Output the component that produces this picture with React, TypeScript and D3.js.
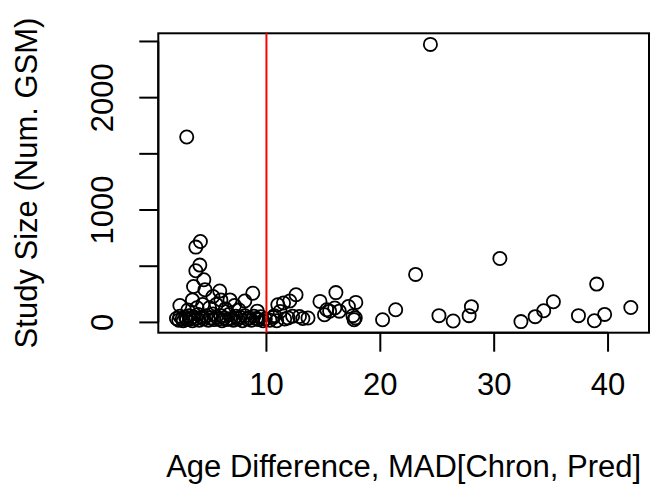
import React from "react";
import * as d3 from "d3";

// Age difference, MAD[Chron, Pred] (x) and study size, number of GSM (y)
const ageDiff: number[] = [
  // dense left cluster, low
  2.1, 2.3, 2.4, 2.6, 2.7, 2.9, 3.0, 3.2, 3.3, 3.5, 3.6, 3.8, 4.0, 4.1, 4.3, 4.5, 4.7, 4.9, 5.1, 5.3, 5.4, 5.6,
  5.8, 6.0, 6.1, 6.3, 6.5, 6.7, 6.9, 7.1, 7.3, 7.5, 7.7, 7.9, 8.1, 8.3, 8.5, 8.7, 8.9, 9.1, 9.3, 9.5, 9.7, 9.9,
  // left cluster, upper
  2.4, 3.1, 3.5, 3.6, 4.6, 4.5, 5.0, 5.3, 5.6, 5.9, 6.0, 6.4, 6.8, 7.2, 7.6, 8.1, 8.8, 9.2, 3.9, 4.4,
  // left cluster, high
  3.0, 4.2, 3.8, 4.15, 3.8,
  // middle
  10.3, 10.6, 10.7, 10.9, 11.0, 11.2, 11.5, 11.6, 11.9, 12.05, 12.3, 12.6, 12.9, 13.2, 13.65, 14.7, 15.1, 15.3,
  15.55, 16.0, 16.1, 16.4, 17.2, 17.85, 17.6, 17.7, 17.8,
  // right
  20.2, 21.35, 23.1, 24.4, 25.15, 26.4, 27.8, 28.0, 30.5, 32.35, 33.6, 34.35, 35.2, 37.4, 38.8, 39.0, 39.7, 42.0,
];

const studySize: number[] = [
  35, 20, 55, 30, 15, 45, 25, 60, 30, 15, 50, 35, 70, 20, 45, 30, 60, 20, 40, 75, 25, 50,
  30, 60, 15, 40, 25, 70, 35, 20, 55, 30, 45, 15, 60, 30, 40, 20, 55, 35, 25, 50, 15, 30,
  150, 110, 200, 320, 290, 380, 130, 230, 160, 280, 200, 120, 200, 150, 110, 190, 260, 100, 130, 160,
  1650, 720, 670, 510, 460,
  20, 45, 60, 15, 157, 98, 172, 30, 40, 190, 55, 246, 53, 35, 39, 187, 68, 113,
  100, 128, 265, 100, 142, 178, 60, 24, 40,
  24, 113, 427, 2474, 60, 12, 60, 140, 569, 7, 51, 104, 184, 60, 15, 341, 71, 133,
];

const xTicks: number[] = [10, 20, 30, 40];
const yTicks: number[] = [0, 500, 1000, 1500, 2000, 2500];
const yTickLabels: number[] = [0, 1000, 2000];
const cutoff = 10;

const xTitle = "Age Difference, MAD[Chron, Pred]";
const yTitle = "Study Size (Num. GSM)";

const W = 650;
const H = 484;
const L = 158.3;
const R = 649;
const T = 33.3;
const B = 332.7;
const FONT = "'Liberation Sans', Arial, Helvetica, sans-serif";
const FS = 31;

function padExtent(v: number[]): [number, number] {
  const [a, b] = d3.extent(v) as [number, number];
  const p = (b - a) * 0.04;
  return [a - p, b + p];
}

export default function App() {
  const x = d3.scaleLinear().domain(padExtent(ageDiff)).range([L, R]);
  const y = d3.scaleLinear().domain(padExtent(studySize)).range([B, T]);
  const pts = ageDiff.map((d, i) => [d, studySize[i]] as [number, number]);
  const tick = 19;

  return (
    <svg
      width={W}
      height={H}
      style={{ position: "absolute", left: 0, top: 0, background: "#fff" }}
      fontFamily={FONT}
    >
      <rect x={0} y={0} width={W} height={H} fill="#fff" />
      {pts.map(([a, b], i) => (
        <circle key={i} cx={x(a)} cy={y(b)} r={6.6} fill="none" stroke="#000" strokeWidth={1.8} />
      ))}
      {/* x axis */}
      <line x1={x(xTicks[0])} x2={x(xTicks[xTicks.length - 1])} y1={B} y2={B} stroke="#000" strokeWidth={2} />
      {xTicks.map((t) => (
        <g key={t}>
          <line x1={x(t)} x2={x(t)} y1={B} y2={B + tick} stroke="#000" strokeWidth={2} />
          <text x={x(t)} y={395} textAnchor="middle" fontSize={FS}>
            {t}
          </text>
        </g>
      ))}
      {/* y axis */}
      <line x1={L} x2={L} y1={y(yTicks[0])} y2={y(yTicks[yTicks.length - 1])} stroke="#000" strokeWidth={2} />
      {yTicks.map((t) => (
        <line key={t} x1={L - tick} x2={L} y1={y(t)} y2={y(t)} stroke="#000" strokeWidth={2} />
      ))}
      {yTickLabels.map((t) => (
        <text key={t} transform={`translate(113,${y(t)}) rotate(-90)`} textAnchor="middle" fontSize={FS}>
          {t}
        </text>
      ))}
      {/* box */}
      <rect x={L} y={T} width={R - L} height={B - T} fill="none" stroke="#000" strokeWidth={2} />
      {/* cutoff line */}
      <line x1={x(cutoff)} x2={x(cutoff)} y1={T} y2={B} stroke="#ff0000" strokeWidth={2} />
      {/* titles */}
      <text x={(L + R) / 2} y={477} textAnchor="middle" fontSize={FS}>
        {xTitle}
      </text>
      <text transform={`translate(37,${(T + B) / 2}) rotate(-90)`} textAnchor="middle" fontSize={FS}>
        {yTitle}
      </text>
    </svg>
  );
}
